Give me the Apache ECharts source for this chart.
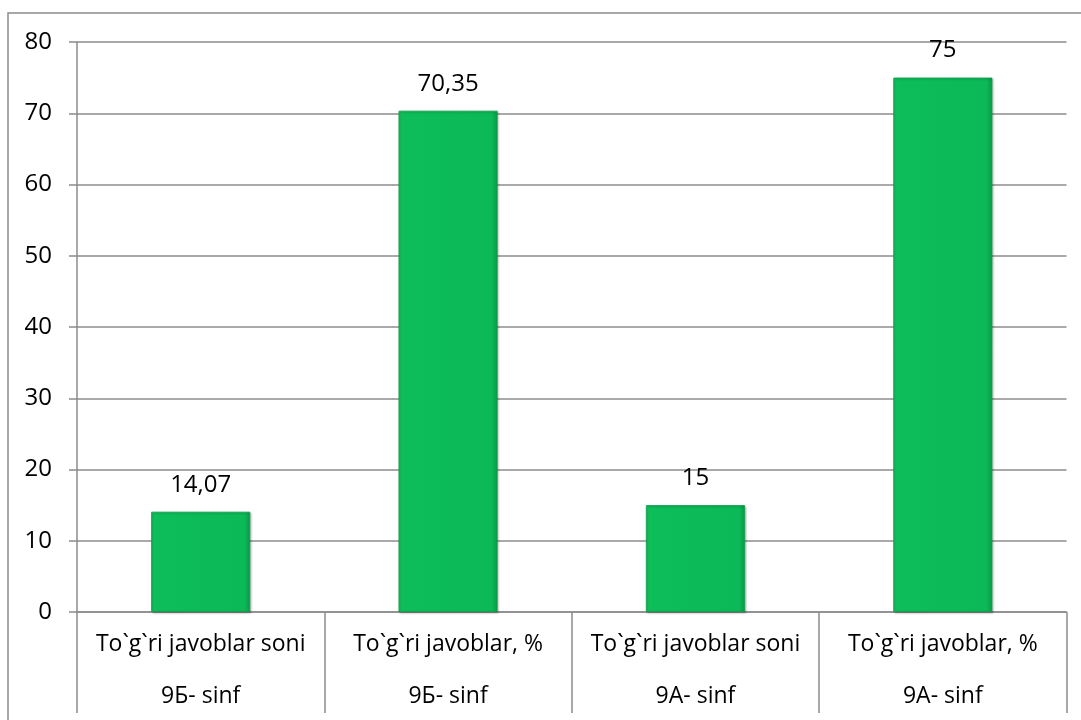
<!DOCTYPE html>
<html>
<head>
<meta charset="utf-8">
<script src="https://cdn.jsdelivr.net/npm/echarts@6/dist/echarts.min.js"></script>
<style>
html,body{margin:0;padding:0;background:#fff;}
#chart{width:1081px;height:720px;}
</style>
</head>
<body>
<div id="chart"></div>
<script>
var categories = ["To`g`ri javoblar soni", "To`g`ri javoblar, %", "To`g`ri javoblar soni", "To`g`ri javoblar, %"];
var groups = ["9Б- sinf", "9Б- sinf", "9А- sinf", "9А- sinf"];
var values = [14.07, 70.35, 15, 75];
var valueLabels = ["14,07", "70,35", "15", "75"];

var FONT = "Open Sans";
var GRAY = "#8c8c8c";
var chart = echarts.init(document.getElementById('chart'), null, {renderer: 'canvas'});
chart.setOption({
  animation: false,
  backgroundColor: '#ffffff',
  textStyle: {fontFamily: FONT},
  graphic: [{
    type: 'rect',
    shape: {x: 8, y: 13, width: 1200, height: 800},
    style: {fill: 'none', stroke: GRAY, lineWidth: 1.5},
    silent: true
  }],
  grid: {left: 77, right: 14.5, top: 42, bottom: 108, containLabel: false},
  xAxis: [{
    type: 'category',
    data: categories,
    axisLine: {show: true, lineStyle: {color: GRAY, width: 1.5}},
    axisTick: {show: true, interval: 0, length: 101, lineStyle: {color: GRAY, width: 1.5}},
    axisLabel: {interval: 0, color: '#000', fontFamily: FONT, fontSize: 23, margin: 21},
    splitLine: {show: false}
  }, {
    type: 'category',
    position: 'bottom',
    data: groups,
    axisLine: {show: false},
    axisTick: {show: false},
    axisLabel: {interval: 0, color: '#000', fontFamily: FONT, fontSize: 23, margin: 73},
    splitLine: {show: false}
  }],
  yAxis: {
    type: 'value',
    min: 0, max: 80, interval: 10,
    axisLine: {show: true, lineStyle: {color: GRAY, width: 1.5}},
    axisTick: {show: true, length: 8, lineStyle: {color: GRAY, width: 1.5}},
    axisLabel: {color: '#000', fontFamily: FONT, fontSize: 24, margin: 25},
    splitLine: {show: true, lineStyle: {color: GRAY, width: 1.5}}
  },
  series: [{
    type: 'bar',
    data: values,
    barWidth: 99,
    itemStyle: {
      color: new echarts.graphic.LinearGradient(0, 0, 1, 0, [
        {offset: 0, color: '#16C25F'},
        {offset: 0.06, color: '#0DBD59'},
        {offset: 0.94, color: '#0BB957'},
        {offset: 1, color: '#079B45'}
      ]),
      borderColor: '#0A9E49',
      borderWidth: 0.8,
      shadowColor: 'rgba(0,0,0,0.25)',
      shadowBlur: 2,
      shadowOffsetX: 1,
      shadowOffsetY: 1
    },
    label: {
      show: true,
      position: 'top',
      distance: 15,
      color: '#000',
      fontFamily: FONT,
      fontSize: 24,
      formatter: function (p) { return valueLabels[p.dataIndex]; }
    }
  }]
});
</script>
</body>
</html>
